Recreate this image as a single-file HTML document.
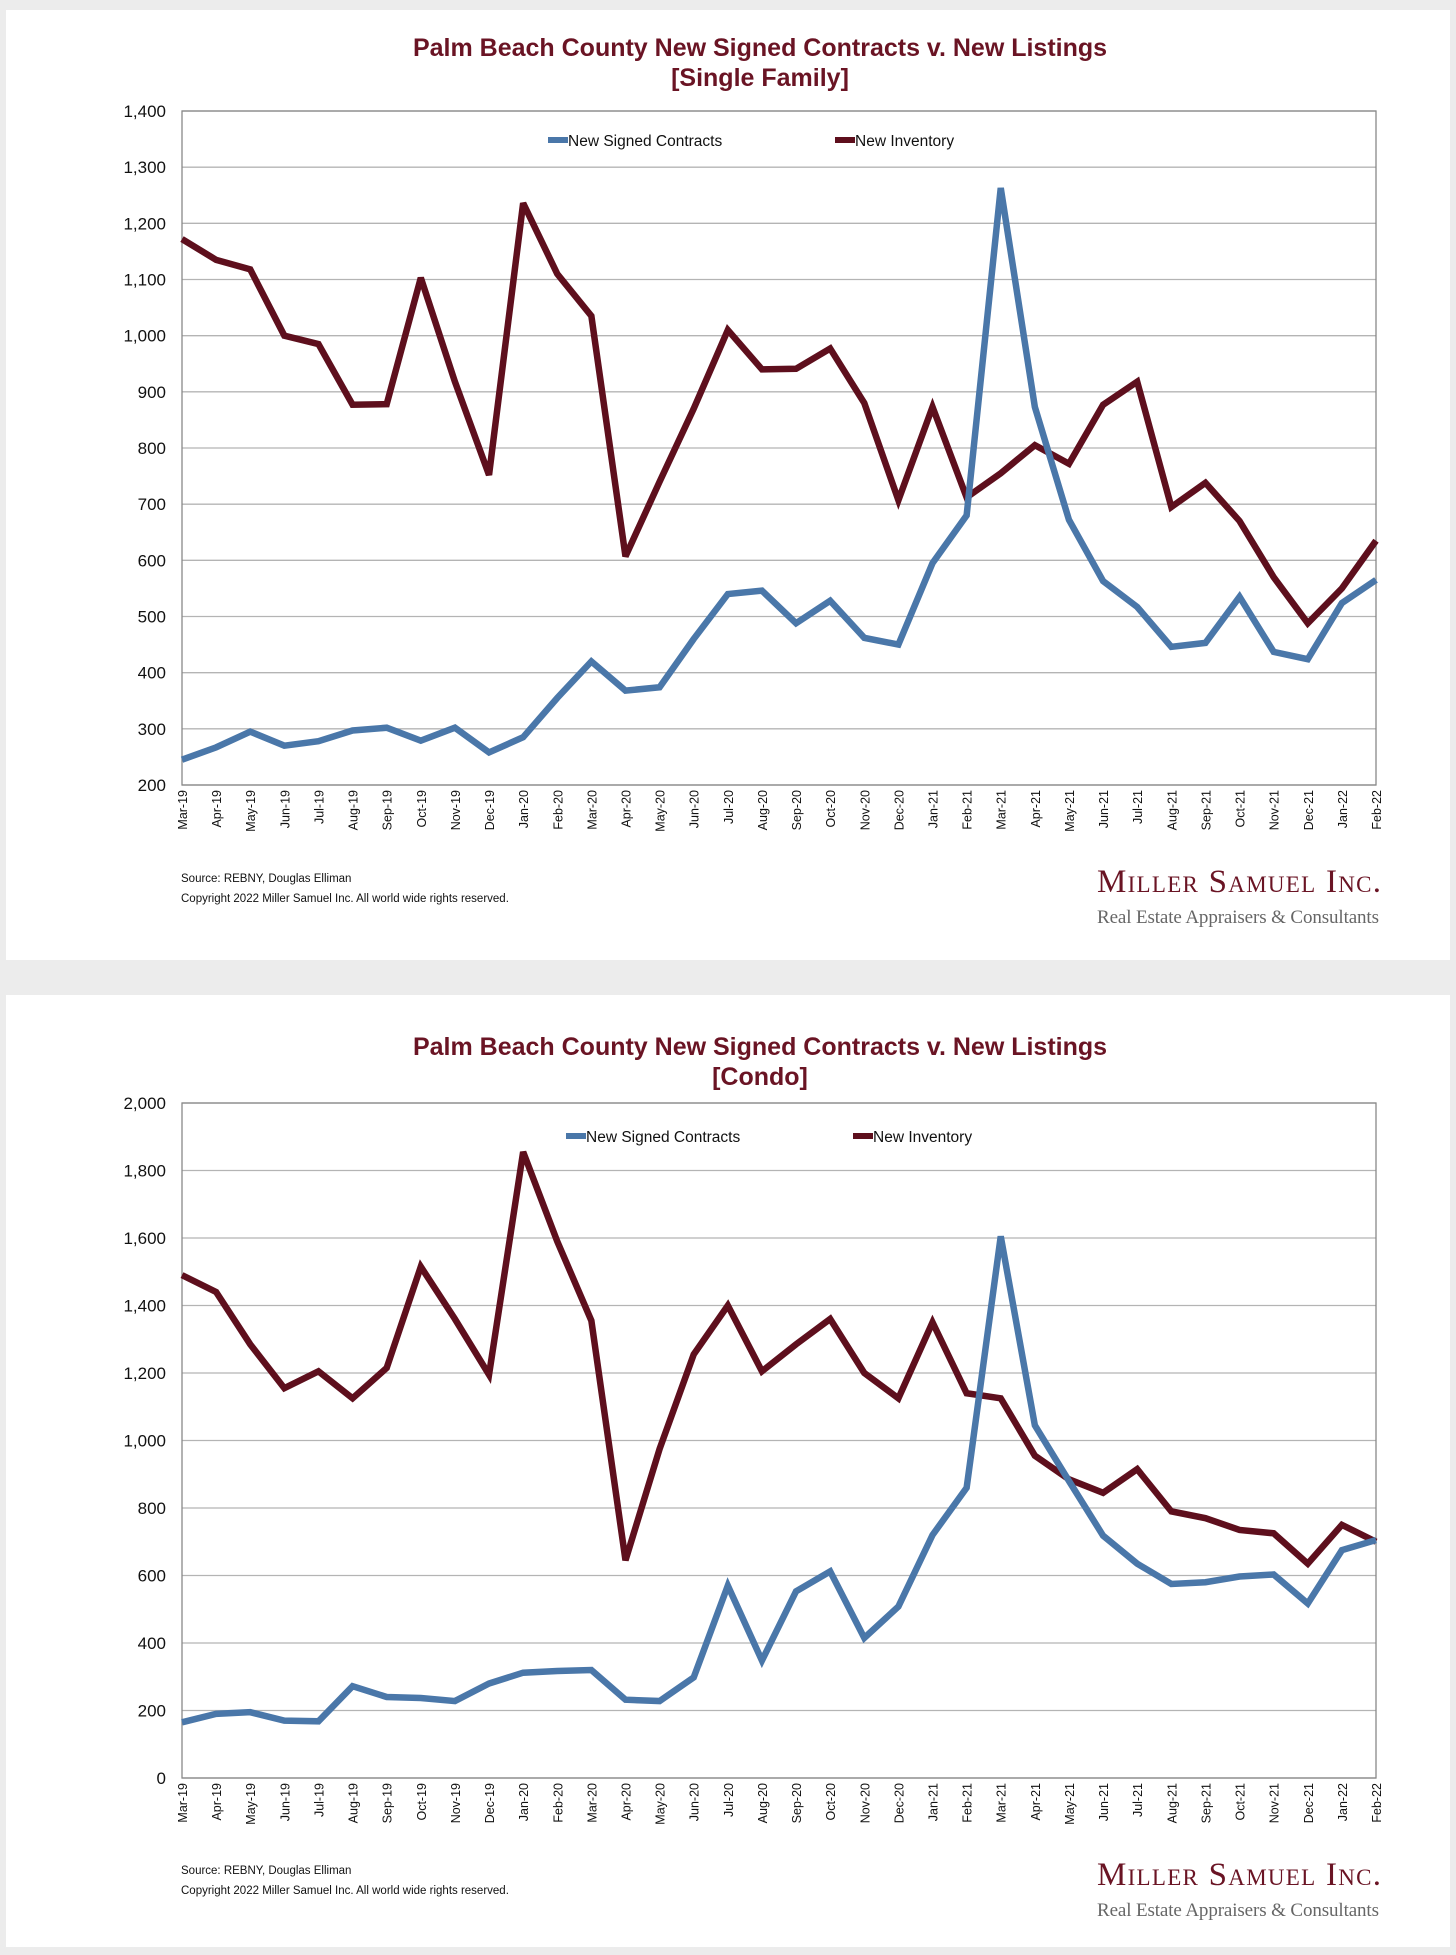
<!DOCTYPE html>
<html><head><meta charset="utf-8"><style>
html,body{margin:0;padding:0;background:#ececec;}
svg{display:block;}
text{font-family:"Liberation Sans",Arial,sans-serif;}
.serif{font-family:"Liberation Serif","Times New Roman",serif;}
</style></head><body>
<svg id="s" width="1456" height="1955" viewBox="0 0 1456 1955" xmlns="http://www.w3.org/2000/svg">
<rect x="0" y="0" width="1456" height="1955" fill="#ececec"/>
<rect x="6" y="10" width="1444" height="950" fill="#fff"/>
<rect x="6" y="995" width="1444" height="952" fill="#fff"/>
</svg>
<script>
const months = ["Mar-19","Apr-19","May-19","Jun-19","Jul-19","Aug-19","Sep-19","Oct-19","Nov-19","Dec-19","Jan-20","Feb-20","Mar-20","Apr-20","May-20","Jun-20","Jul-20","Aug-20","Sep-20","Oct-20","Nov-20","Dec-20","Jan-21","Feb-21","Mar-21","Apr-21","May-21","Jun-21","Jul-21","Aug-21","Sep-21","Oct-21","Nov-21","Dec-21","Jan-22","Feb-22"];
const sfInventory = [1172,1135,1118,1000,985,877,878,1103,918,752,1236,1110,1035,607,740,870,1010,940,941,977,880,707,873,712,755,805,772,877,918,695,738,670,570,488,550,635];
const sfContracts = [245,267,295,270,278,297,302,279,302,258,285,355,420,368,374,460,540,546,488,528,462,450,595,680,1263,873,672,563,517,446,453,535,437,424,524,565];
const sfTicks = [200,300,400,500,600,700,800,900,1000,1100,1200,1300,1400];
const condoInventory = [1490,1440,1285,1155,1205,1125,1215,1515,1360,1195,1855,1590,1355,645,975,1255,1400,1205,1285,1360,1200,1125,1350,1140,1125,955,885,845,915,790,770,735,725,635,750,700];
const condoContracts = [165,190,195,170,168,272,240,237,228,280,312,317,320,232,228,298,570,348,553,612,415,508,720,860,1605,1045,880,718,635,575,580,597,603,517,675,705];
const condoTicks = [0,200,400,600,800,1000,1200,1400,1600,1800,2000];

const NS="http://www.w3.org/2000/svg";
const svg=document.getElementById('s');
function mk(tag,attrs,parent,txt){const e=document.createElementNS(NS,tag);for(const k in attrs)e.setAttribute(k,attrs[k]);if(txt!==undefined)e.textContent=txt;(parent||svg).appendChild(e);return e;}

function chart(o){
  const g=mk('g',{});
  
  
  const L=182,R=1376,T=o.top,B=o.bottom;
  const ymin=o.ticks[0],ymax=o.ticks[o.ticks.length-1];
  const x=i=>L+(R-L)*i/(months.length-1);
  const y=v=>B-(B-T)*(v-ymin)/(ymax-ymin);
  let t=mk('text',{x:760,y:o.titleY,'text-anchor':'middle','font-size':25,'font-weight':'bold',fill:'#6a1424'},g,'Palm Beach County New Signed Contracts v. New Listings');
  
  t=mk('text',{x:760,y:o.titleY+30,'text-anchor':'middle','font-size':25,'font-weight':'bold',fill:'#6a1424'},g,o.sub);
  
  for(const v of o.ticks){
    const gl=mk('line',{x1:L,x2:R,y1:y(v),y2:y(v),stroke:'#b4b4b4','stroke-width':1.3},g);
    
    const tl=mk('text',{x:L-16,y:y(v)+6,'text-anchor':'end','font-size':17,fill:'#111'},g,v.toLocaleString('en-US'));
    
  }
  const fr=mk('rect',{x:L,y:T,width:R-L,height:B-T,fill:'none',stroke:'#888','stroke-width':1.3},g);
  
  months.forEach((m,i)=>{
    const xl=mk('text',{transform:`translate(${x(i)+5},${B+5}) rotate(-90)`,'text-anchor':'end','font-size':12.5,fill:'#111'},g,m);
    
  });
  const series=[[o.inv,'#5e0f1d','inventory-line'],[o.con,'#4a77a9','contracts-line']];
  for(const [d,c,n] of series){
    const p=mk('polyline',{points:d.map((v,i)=>x(i)+','+y(v)).join(' '),fill:'none',stroke:c,'stroke-width':6.5,'stroke-linejoin':'miter','stroke-miterlimit':3},g);
    
  }
  const l1=mk('line',{x1:o.lx1,x2:o.lx1+20,y1:o.ly,y2:o.ly,stroke:'#4a77a9','stroke-width':6},g);
  
  t=mk('text',{x:o.lx1+20,y:o.ly+6,'font-size':15.5,fill:'#111'},g,'New Signed Contracts');
  
  const l2=mk('line',{x1:o.lx2,x2:o.lx2+20,y1:o.ly,y2:o.ly,stroke:'#5e0f1d','stroke-width':6},g);
  
  t=mk('text',{x:o.lx2+20,y:o.ly+6,'font-size':15.5,fill:'#111'},g,'New Inventory');
  
  t=mk('text',{x:181,y:o.srcY,'font-size':11.5,fill:'#111'},g,'Source: REBNY, Douglas Elliman');
  
  t=mk('text',{x:181,y:o.srcY+20,'font-size':11.5,fill:'#111'},g,'Copyright 2022 Miller Samuel Inc.  All world wide rights reserved.');
  
  t=mk('text',{x:1381,y:o.logoY,'text-anchor':'end','font-size':33,fill:'#6a1424','class':'serif','font-variant':'small-caps','textLength':284},g,'Miller Samuel Inc.');
  
  t=mk('text',{x:1379,y:o.logoY+31,'text-anchor':'end','font-size':19,fill:'#666','class':'serif','textLength':282},g,'Real Estate Appraisers & Consultants');
  
}
chart({name:'chart-single-family',sub:'[Single Family]',titleY:56,top:111,bottom:785,ticks:sfTicks,inv:sfInventory,con:sfContracts,lx1:548,lx2:835,ly:140,srcY:882,logoY:892});
chart({name:'chart-condo',sub:'[Condo]',titleY:1055,top:1103,bottom:1778,ticks:condoTicks,inv:condoInventory,con:condoContracts,lx1:566,lx2:853,ly:1136,srcY:1874,logoY:1885});
</script>
</body></html>
